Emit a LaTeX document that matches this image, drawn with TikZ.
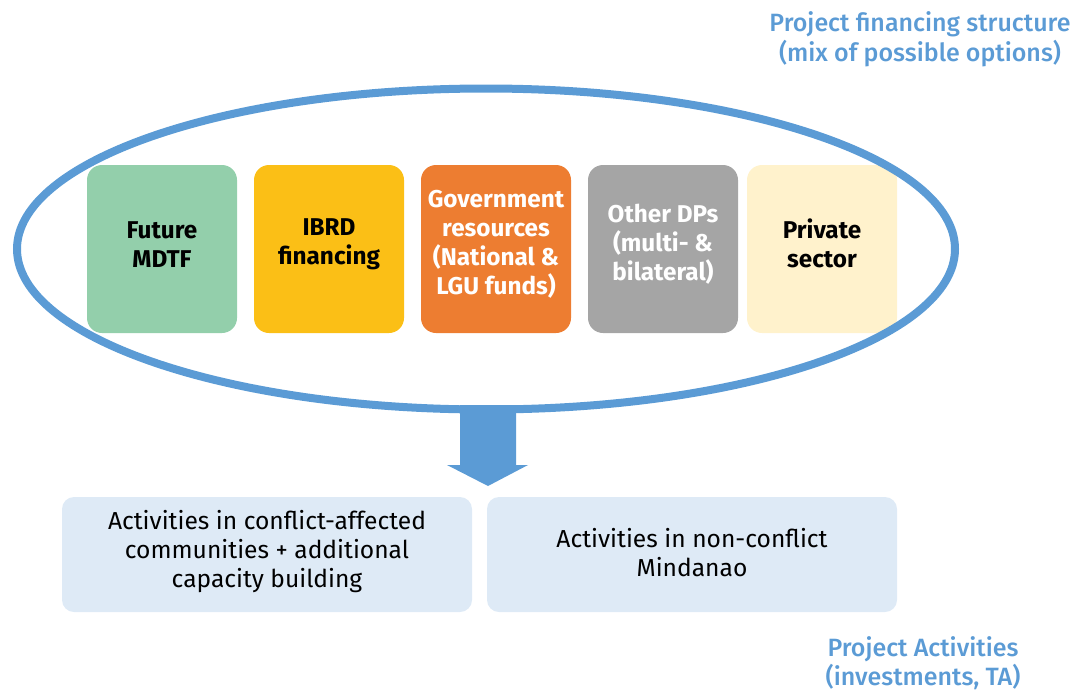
\documentclass[tikz,border=0pt]{standalone}
\usepackage{fontspec}
\usetikzlibrary{shapes.geometric}
\setmainfont{Fira Sans}
\newfontfamily\firamed{Fira Sans Medium}
\definecolor{eblue}{HTML}{5B9BD5}
\definecolor{cgreen}{HTML}{93CFAB}
\definecolor{cyellow}{HTML}{FBBF16}
\definecolor{corange}{HTML}{ED7D31}
\definecolor{cgray}{HTML}{A5A5A5}
\definecolor{ccream}{HTML}{FFF2CC}
\definecolor{clight}{HTML}{DEEAF6}
\begin{document}
\begin{tikzpicture}[x=1pt,y=-1pt,
  fund/.style={rounded corners=15pt,minimum width=150pt,minimum height=168pt,inner sep=0pt},
  flabel/.style={align=center,font=\fontsize{24.3}{29}\selectfont\bfseries},
  act/.style={fill=clight,rounded corners=12pt,minimum width=410pt,minimum height=115pt,inner sep=0pt},
  alabel/.style={align=center,font=\fontsize{24.6}{29}\selectfont},
  title/.style={align=center,text=eblue,font=\fontsize{25}{29.5}\selectfont\firamed}]
\useasboundingbox (0,0) rectangle (1079,691);
% funding boxes
\node[fund,fill=cgreen]  (b1) at (162,249) {};
\node[fund,fill=cyellow] (b2) at (329,249) {};
\node[fund,fill=corange] (b3) at (496,249) {};
\node[fund,fill=cgray]   (b4) at (663,249) {};
\node[fund,fill=ccream]  (b5) at (822,249) {};
\node[flabel] (t1) at (162,244.5) {Future\\MDTF};
\node[flabel] (t2) at (329,244.5) {IBRD\\financing};
\node[flabel,text=white] (t3) at (496,244.5) {Government\\resources\\(National \&\\LGU funds)};
\node[flabel,text=white] (t4) at (663,244.5) {Other DPs\\(multi- \&\\bilateral)};
\node[flabel] (t5) at (822,243.5) {Private\\sector};
% ellipse
\node[draw=eblue,line width=8pt,ellipse,minimum width=938pt,minimum height=321pt,inner sep=0pt] (ell) at (486,249) {};
% block arrow
\coordinate (atip) at (488,486);
\fill[eblue] (460,405) -- (516,405) -- (516,465) -- (528,465) -- (atip) -- (447,465) -- (460,465) -- cycle;
% activity boxes
\node[act] (a1) at (267,554.5) {};
\node[act] (a2) at (692,554.5) {};
\node[alabel] (l1) at (267,551.5) {Activities in conflict-affected\\communities + additional\\capacity building};
\node[alabel] (l2) at (692,552.5) {Activities in non-conflict\\Mindanao};
% titles
\node[title] (h1) at (920,39.5) {Project financing structure\\(mix of possible options)};
\node[title] (h2) at (923,663) {Project Activities\\(investments, TA)};
\end{tikzpicture}
\end{document}
